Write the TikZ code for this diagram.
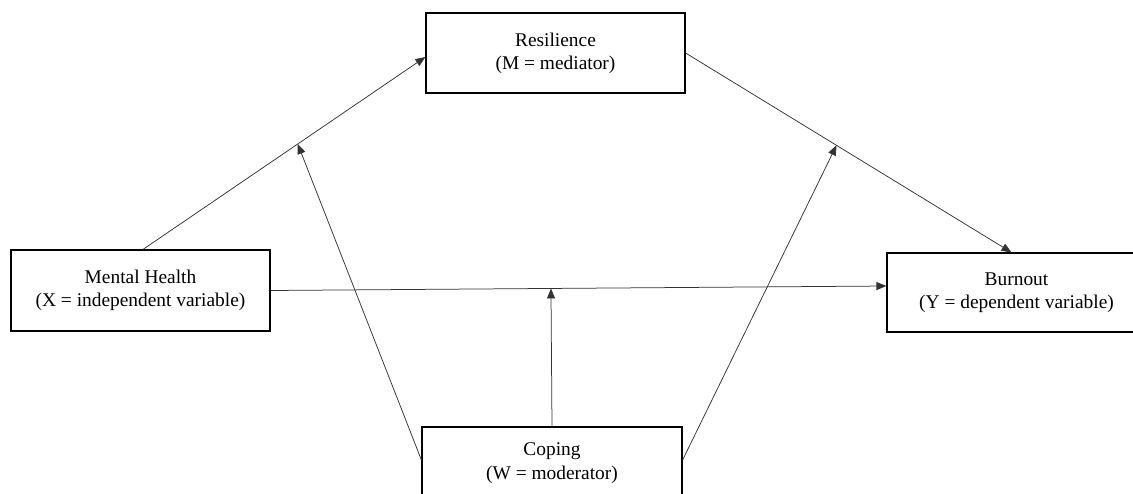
\documentclass[tikz,border=0pt]{standalone}
\usepackage{fontspec}
\setmainfont{Liberation Serif}
\usetikzlibrary{arrows.meta,calc}
\begin{document}
\begin{tikzpicture}[x=1pt,y=-1pt,
  varbox/.style={draw=black,line width=1.2pt,minimum width=259pt,align=center,
    inner sep=0pt,font=\fontsize{19.4}{23.3}\selectfont},
  link/.style={draw=black!80,line width=0.75pt,-{Triangle[length=10pt,width=8pt]}},
  plain/.style={draw=black!80,line width=0.75pt}]
\useasboundingbox[fill=white] (0,0) rectangle (1133,493);
\node[varbox,minimum height=80pt] (res) at (555.5,53) {Resilience\\(M = mediator)};
\node[varbox,minimum height=81pt] (mh) at (140.5,290.5) {Mental Health\\(X = independent variable)};
\node[varbox,minimum height=79pt] (bo) at (1016.5,292.5) {Burnout\\(Y = dependent variable)};
\node[varbox,minimum height=72pt,minimum width=260pt] (cp) at (552,463) {Coping\\(W = moderator)};
% anchor points
\coordinate (mhtop) at ([xshift=2.5pt]mh.north);
\coordinate (resin) at ([yshift=-4pt]res.west);
\coordinate (boin) at ([xshift=-5pt]bo.north);
\coordinate (bow) at ([yshift=6.5pt]bo.west);
% main paths
\draw[link] (mhtop) -- (resin);
\draw[link] (res.east) -- (boin);
\draw[link] (mh.east) -- (bow);
% moderation targets
\coordinate (m1) at ($(mhtop)!0.548!(resin)$);
\coordinate (m2) at ($(res.east)!0.463!(boin)$);
\coordinate (m3) at ($(mh.east)!(cp.north)!(bow)$);
\draw[link] ([yshift=3pt]cp.west) -- (m1);
\draw[link] ([yshift=3pt]cp.east) -- (m2);
\draw[link] (cp.north) -- (m3);
\end{tikzpicture}
\end{document}
